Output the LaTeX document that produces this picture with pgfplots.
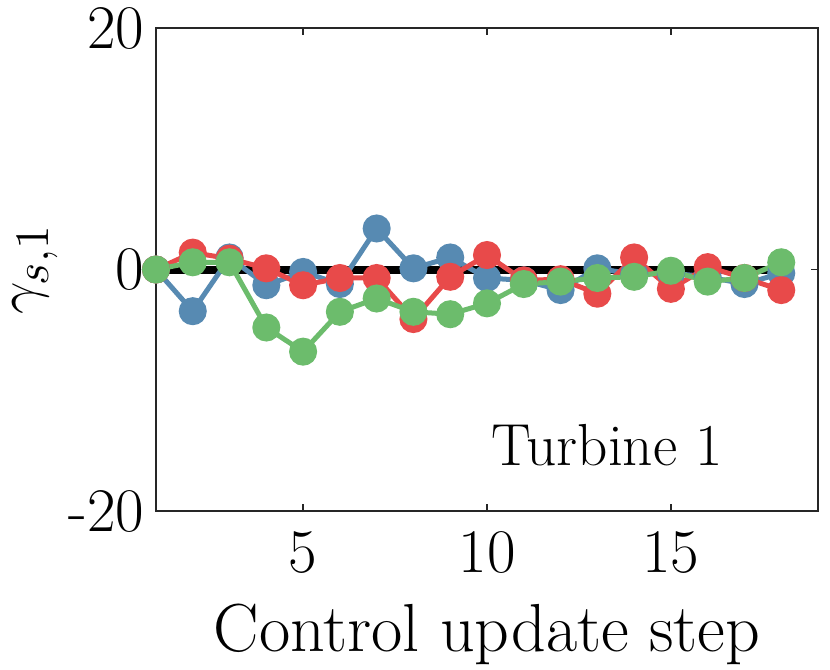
\documentclass[border=0pt]{standalone}
\usepackage{pgfplots}
\pgfplotsset{compat=1.18}
\definecolor{cblue}{RGB}{87,138,178}
\definecolor{cred}{RGB}{232,74,74}
\definecolor{cgreen}{RGB}{108,188,108}
\definecolor{axgray}{RGB}{38,38,38}
\begin{document}
\begin{tikzpicture}
\begin{axis}[
  scale only axis,
  width=198.6pt, height=144.9pt,
  xmin=1, xmax=19, ymin=-20, ymax=20,
  xtick={5,10,15}, xticklabels={5,10,15},
  ytick={-20,0,20}, yticklabels={{-20},{0},{20}},
  tick align=inside,
  major tick length=2.1pt,
  axis line style={color=axgray, line width=0.45pt},
  tick style={color=axgray, line width=0.45pt},
  ticklabel style={font=\fontsize{18.6}{20}\selectfont, text=black},
  xticklabel style={yshift=-2.5pt},
  xlabel={Control update step},
  ylabel={$\gamma_{s,1}$},
  xlabel style={font=\fontsize{20.4}{22}\selectfont, at={(axis description cs:0.5,0)}, anchor=base, yshift=-42pt},
  ylabel style={font=\fontsize{19}{21}\selectfont, inner sep=0pt, at={(axis description cs:-0.183,0.5)}, anchor=center},
  clip=false,
]
\addplot[black, line width=2.4pt] coordinates {(1,0) (18,0)};
\addplot[cblue, line width=1.5pt, mark=*, mark size=3.45pt, mark options={fill=cblue, draw=cblue}] coordinates {
(1,0) (2,-3.45) (3,1.0) (4,-1.3) (5,-0.2) (6,-1.2) (7,3.4) (8,0.1) (9,1.0) (10,-0.7)
(11,-0.9) (12,-1.7) (13,0.1) (14,-0.4) (15,-0.3) (16,-0.6) (17,-1.2) (18,-0.3)};
\addplot[cred, line width=1.5pt, mark=*, mark size=3.45pt, mark options={fill=cred, draw=cred}] coordinates {
(1,0) (2,1.4) (3,0.9) (4,0.1) (5,-1.3) (6,-0.7) (7,-0.7) (8,-4.1) (9,-0.6) (10,1.2)
(11,-0.9) (12,-0.8) (13,-2.0) (14,1.0) (15,-1.6) (16,0.2) (17,-0.7) (18,-1.7)};
\addplot[cgreen, line width=1.5pt, mark=*, mark size=3.45pt, mark options={fill=cgreen, draw=cgreen}] coordinates {
(1,0) (2,0.6) (3,0.6) (4,-4.8) (5,-6.8) (6,-3.5) (7,-2.4) (8,-3.5) (9,-3.7) (10,-2.8)
(11,-1.2) (12,-1.0) (13,-0.7) (14,-0.6) (15,-0.1) (16,-1.0) (17,-0.7) (18,0.6)};
\node[anchor=base west, inner sep=0pt, font=\fontsize{17.8}{19}\selectfont] at (axis cs:10.1,-16.2) {Turbine 1};
\coordinate (bl) at (rel axis cs:-0.2356,-0.3271);
\coordinate (tr) at (rel axis cs:1.0181,1.058);
\end{axis}
\pgfresetboundingbox
\useasboundingbox (bl) rectangle (tr);
\end{tikzpicture}
\end{document}
